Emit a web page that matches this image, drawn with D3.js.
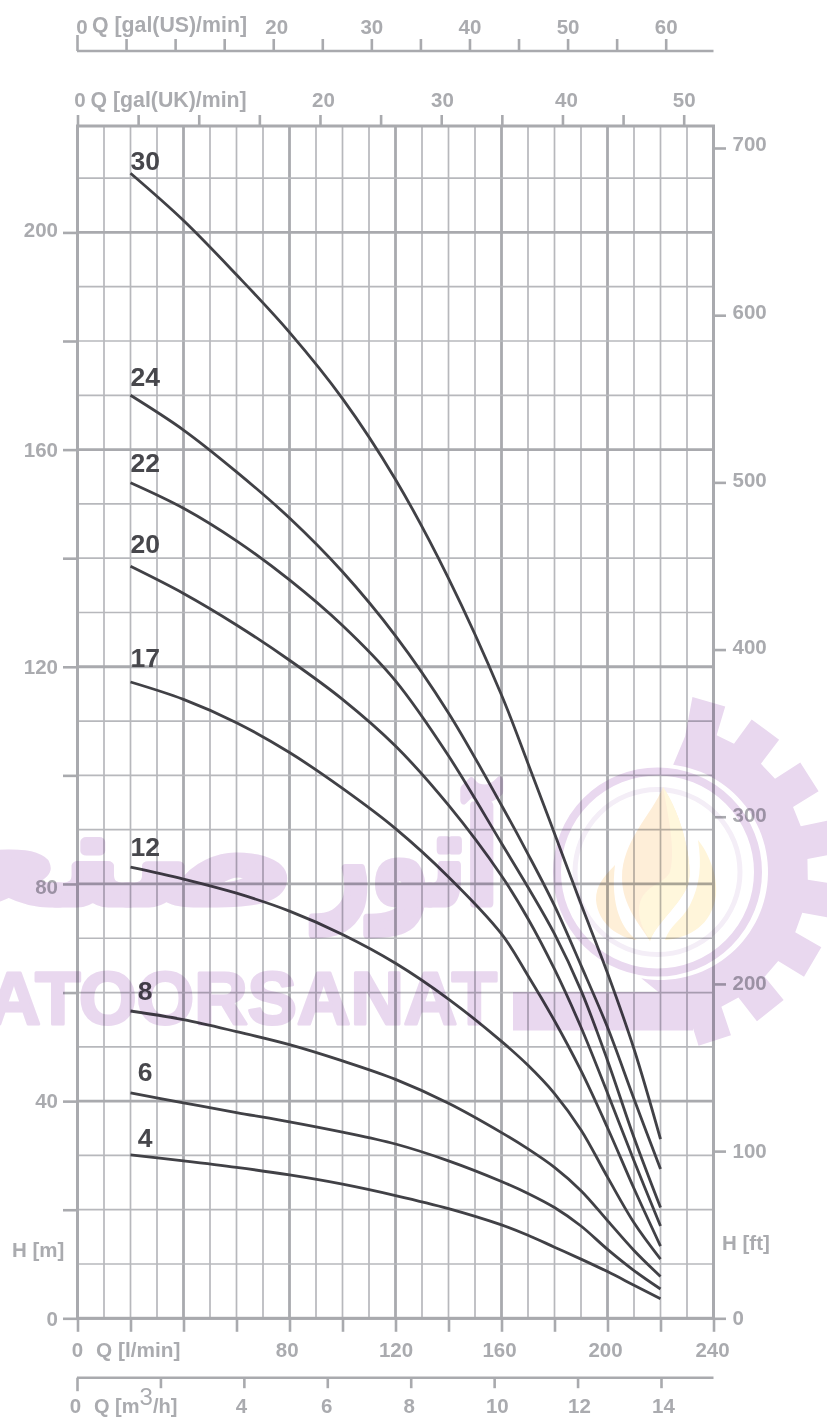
<!DOCTYPE html>
<html>
<head>
<meta charset="utf-8">
<script src="https://cdnjs.cloudflare.com/ajax/libs/d3/7.8.5/d3.min.js"></script>
<style>
  html, body { margin: 0; padding: 0; background: #fff; }
  svg { display: block; }
  text { font-family: "Liberation Sans", Arial, sans-serif; font-weight: bold; }
  .axis text { font-size: 20.5px; fill: #aaabaf; }
  .axis line { stroke: #a9aaae; stroke-width: 2.6px; }
  .title { font-size: 21.3px; fill: #aaabaf; }
  .curveLabel { font-size: 26.5px; fill: #47474c; }
  .curve { fill: none; stroke: #414146; stroke-width: 2.8px; }
</style>
</head>
<body>
<div id="chart"></div>
<script>
// flow points the curves were read at, l/min. closer together where they bend
const flow = [20, 40, 60, 80, 100, 120, 140, 160, 170, 180, 190, 200, 210, 220];

// head in m, one array per pump stage count
const stage30 = [210.9, 202.2, 192.2, 181.6, 169.4, 154.5, 136.3, 114.8, 102.2, 89.3, 76.3, 63.6, 49.6, 33];
const stage24 = [170, 163.6, 155.9, 147.4, 137.5, 125.7, 111.5, 94.5, 85.5, 76, 65, 53.6, 40.4, 27.5];
const stage22 = [153.9, 149.2, 143.2, 136, 127.6, 117.4, 103.6, 87.5, 79.4, 70.8, 60.4, 47.5, 33.3, 20.4];
const stage20 = [138.5, 133.5, 127.7, 121.2, 114, 105.4, 94.5, 81.5, 73.6, 64.3, 53.6, 41.5, 29, 17];
const stage17 = [117.2, 114, 109.7, 104.2, 97.6, 90.2, 81.3, 70.8, 63.1, 54.8, 45.6, 35.1, 23.9, 13.3];
const stage12 = [83.1, 80.9, 78.3, 75, 70.7, 65.4, 58.8, 51, 46.6, 41.4, 34.7, 26, 17.6, 10.9];
const stage8 = [56.6, 55, 52.8, 50.4, 47.4, 44, 39.6, 34.2, 31.2, 27.8, 23.5, 18, 12.5, 7.7];
const stage6 = [41.5, 39.7, 37.9, 36.2, 34.3, 32.1, 29, 25.2, 23, 20.4, 17, 12.7, 8.8, 5.4];
const stage4 = [30.1, 29, 27.8, 26.4, 24.7, 22.6, 20.2, 17.2, 15.3, 13.1, 10.9, 8.6, 6.1, 3.6];

const stageNames = ["30", "24", "22", "20", "17", "12", "8", "6", "4"];
const stageSeries = [stage30, stage24, stage22, stage20, stage17, stage12, stage8, stage6, stage4];

// axis ticks and which of them carry a label
const lpmTicks = [0, 20, 40, 60, 80, 100, 120, 140, 160, 180, 200, 220, 240];
const lpmLabels = [0, 80, 120, 160, 200, 240];
const headTicks = [0, 20, 40, 60, 80, 100, 120, 140, 160, 180, 200];
const headLabels = [0, 40, 80, 120, 160, 200];
const feetTicks = [0, 100, 200, 300, 400, 500, 600, 700];
const usTicks = [0, 5, 10, 15, 20, 25, 30, 35, 40, 45, 50, 55, 60];
const usLabels = [0, 20, 30, 40, 50, 60];
const ukTicks = [0, 5, 10, 15, 20, 25, 30, 35, 40, 45, 50];
const ukLabels = [0, 20, 30, 40, 50];
const m3hTicks = [0, 2, 4, 6, 8, 10, 12, 14];
const m3hLabels = [0, 4, 6, 8, 10, 12, 14];

const W = 827, H = 1417;
const plotLeft = 77.5, plotRight = 713.5, plotTop = 126, plotBottom = 1318.3;

var svg = d3.select("#chart").append("svg")
  .attr("width", W)
  .attr("height", H);

svg.append("rect").attr("width", W).attr("height", H).attr("fill", "#fff");

var x = d3.scaleLinear().domain([0, 240]).range([plotLeft, plotRight]);
var y = d3.scaleLinear().domain([0, 219.6]).range([plotBottom, plotTop]);
var yFeet = d3.scaleLinear().domain([0, 700]).range([plotBottom, 148]);
var xUs = d3.scaleLinear().domain([0, 60]).range([77, 665.7]);
var xUk = d3.scaleLinear().domain([0, 50]).range([plotLeft, 683.7]);
var xM3h = d3.scaleLinear().domain([0, 14]).range([77, 661]);

function onlyLabels(list) {
  return function(d) { return list.indexOf(d) >= 0 ? d : ""; };
}

// grid, thin every 10 and heavy every 40
var grid = svg.append("g").attr("class", "grid");
grid.selectAll(".gridX").data(x.ticks(24))
  .enter().append("line")
  .attr("class", "gridX")
  .attr("x1", function(d) {return x(d);})
  .attr("x2", function(d) {return x(d);})
  .attr("y1", plotTop)
  .attr("y2", plotBottom)
  .attr("stroke", function(d) {return d % 40 == 0 ? "#a9aaae" : "#b7b8bc";})
  .attr("stroke-width", function(d) {return d % 40 == 0 ? 2.8 : 1.7;});
grid.selectAll(".gridY").data(y.ticks(22))
  .enter().append("line")
  .attr("class", "gridY")
  .attr("x1", plotLeft)
  .attr("x2", plotRight)
  .attr("y1", function(d) {return y(d);})
  .attr("y2", function(d) {return y(d);})
  .attr("stroke", function(d) {return d % 40 == 0 ? "#a9aaae" : "#b7b8bc";})
  .attr("stroke-width", function(d) {return d % 40 == 0 ? 2.8 : 1.7;});

svg.append("rect")
  .attr("x", plotLeft).attr("y", plotTop)
  .attr("width", plotRight - plotLeft).attr("height", plotBottom - plotTop)
  .attr("fill", "none")
  .attr("stroke", "#a9aaae")
  .attr("stroke-width", 3);

// axes
function addAxis(axis, tx, ty) {
  var g = svg.append("g")
    .attr("class", "axis")
    .attr("transform", "translate(" + tx + "," + ty + ")")
    .call(axis);
  g.select(".domain").remove();
  return g;
}

function nudge(g, attr, offsets) {
  g.selectAll(".tick text")
    .attr(attr, function(d) {
      return (+d3.select(this).attr(attr) || 0) + (offsets[d] || 0);
    });
}

var leftAxis = addAxis(d3.axisLeft(y).tickValues(headTicks).tickSize(14.5).tickPadding(5)
  .tickFormat(onlyLabels(headLabels)), plotLeft, 0);
leftAxis.selectAll(".tick text").attr("transform", function(d) {
  var off = {0: 0.7, 80: 3.2, 200: -2.7};
  return "translate(0," + (off[d] || 0) + ")";
});

var rightAxis = addAxis(d3.axisRight(yFeet).tickValues(feetTicks).tickSize(12.5).tickPadding(6.5), plotRight, 0);
rightAxis.selectAll(".tick text").attr("transform", function(d) {
  return "translate(0," + (-d / 175) + ")";
});

var lpmAxis = addAxis(d3.axisBottom(x).tickValues(lpmTicks).tickSize(13.5).tickPadding(10.3)
  .tickFormat(onlyLabels(lpmLabels)), 0, plotBottom);
nudge(lpmAxis, "x", {0: -0.5, 80: -2.8, 160: -2.5, 200: -2.5, 240: -1.5});

var usAxis = addAxis(d3.axisTop(xUs).tickValues(usTicks).tickSize(12).tickPadding(4.7)
  .tickFormat(onlyLabels(usLabels)), 0, 51);
nudge(usAxis, "x", {0: 4.5, 20: 3});
usAxis.selectAll(".tick").filter(function(d) {return d == 0;}).select("line").attr("y2", -16);

var ukAxis = addAxis(d3.axisTop(xUk).tickValues(ukTicks).tickSize(11).tickPadding(7.7)
  .tickFormat(onlyLabels(ukLabels)), 0, plotTop);
nudge(ukAxis, "x", {0: 2, 20: 3, 30: 0.7, 40: 3.5});

var m3hAxis = addAxis(d3.axisBottom(xM3h).tickValues(m3hTicks).tickSize(10.5).tickPadding(9.9)
  .tickFormat(onlyLabels(m3hLabels)), 0, 1377.7);
nudge(m3hAxis, "x", {0: -2, 4: -3, 6: -1, 8: -2, 10: 2.7, 12: 1.3, 14: 2});
m3hAxis.selectAll(".tick").filter(function(d) {return d == 0;}).select("line").attr("y2", 13.5);

// the two free standing axis lines
[[51, 77, plotRight], [1377.7, 77, plotRight]].forEach(function(l) {
  svg.append("line")
    .attr("x1", l[1]).attr("x2", l[2])
    .attr("y1", l[0]).attr("y2", l[0])
    .attr("stroke", "#a9aaae")
    .attr("stroke-width", 2.6);
});

// axis titles
svg.append("text").attr("class", "title").attr("x", 92).attr("y", 32).text("Q [gal(US)/min]");
svg.append("text").attr("class", "title").attr("x", 90.5).attr("y", 106.5).text("Q [gal(UK)/min]");
svg.append("text").attr("class", "title").attr("x", 96).attr("y", 1356.7).style("font-size", "20.8px").text("Q [l/min]");
svg.append("text").attr("class", "title").attr("x", 12).attr("y", 1256.7).style("font-size", "20.5px").text("H [m]");
svg.append("text").attr("class", "title").attr("x", 722).attr("y", 1250).style("font-size", "20.5px").text("H [ft]");
var m3Title = svg.append("text").attr("class", "title").attr("x", 94).attr("y", 1412.7).style("font-size", "20px");
m3Title.append("tspan").text("Q [m");
m3Title.append("tspan").attr("dy", -8).style("font-size", "24px").style("font-weight", "normal").text("3");
m3Title.append("tspan").attr("dy", 8).text("/h]");

// pump curves
var line = d3.line()
  .x(function(d) {return x(d.q);})
  .y(function(d) {return y(d.h);})
  .curve(d3.curveCatmullRom.alpha(0.5));

var curves = stageSeries.map(function(values, i) {
  return {
    name: stageNames[i],
    points: values.map(function(h, j) {return {q: flow[j], h: h};})
  };
});

svg.selectAll(".curve").data(curves)
  .enter().append("path")
  .attr("class", "curve")
  .attr("d", function(d) {return line(d.points);});

var labelGap = {"30": 3, "24": 9, "22": 11, "20": 13, "17": 15, "12": 11, "8": 10.5, "6": 12, "4": 8};
svg.selectAll(".curveLabel").data(curves)
  .enter().append("text")
  .attr("class", "curveLabel")
  .attr("text-anchor", "end")
  .attr("x", function(d) {return x(20) + (d.name.length > 1 ? 29.5 : 22);})
  .attr("y", function(d) {return y(d.points[0].h) - labelGap[d.name];})
  .text(function(d) {return d.name;});

// watermark, laid over the chart
var purple = "#e9d8ef";
var mark = svg.append("g").style("mix-blend-mode", "multiply");

var cx = 660, cy = 872, rOut = 178, rRoot = 148, rIn = 108;
var teeth = [-74, -53.5, -32.5, -11.5, 9.5, 30.5, 51.5, 72];
var gearPts = [];
function polar(r, deg) {
  var a = deg * Math.PI / 180;
  return [cx + r * Math.cos(a), cy + r * Math.sin(a)];
}
teeth.forEach(function(t, i) {
  if (i > 0) gearPts.push(polar(rRoot, t - 6.5));
  else gearPts.push(polar(rRoot - 10, t - 5.5));
  gearPts.push(polar(rOut, t - 5.5));
  gearPts.push(polar(rOut, t + 5.5));
  gearPts.push(polar(rRoot, t + 6.5));
});
for (var a = 100; a >= -83; a -= 3) gearPts.push(polar(rIn, a));
mark.append("path")
  .attr("d", d3.line()(gearPts) + "Z")
  .attr("fill", purple);
mark.append("rect").attr("x", 513).attr("y", 992).attr("width", 180).attr("height", 38.5).attr("fill", purple);

mark.append("circle").attr("cx", 657.5).attr("cy", 872).attr("r", 100.5)
  .attr("fill", "none").attr("stroke", purple).attr("stroke-width", 8);
mark.append("circle").attr("cx", 657.5).attr("cy", 872).attr("r", 82.5)
  .attr("fill", "none").attr("stroke", "#f4eef7").attr("stroke-width", 5);

mark.append("path")
  .attr("d", "M663,787C652,815 622,840 622,878C622,905 640,925 650,941C655,925 680,905 688,885C694,865 682,815 663,787Z")
  .attr("fill", "#feeed8");
mark.append("path")
  .attr("d", "M663,787C668,815 676,850 670,872C664,885 640,885 639,910C639,925 646,932 650,941C655,925 680,905 688,885C694,865 682,815 663,787Z")
  .attr("fill", "#fff7dc");
mark.append("path")
  .attr("d", "M615,865C603,878 596,885 596,900C598,925 620,938 637,940C622,930 610,905 615,865Z")
  .attr("fill", "#feefd8");
mark.append("path")
  .attr("d", "M698,840C702,865 700,885 690,905C682,920 670,925 665,940C690,938 712,925 716,895C718,875 708,852 698,840Z")
  .attr("fill", "#fff5da");

mark.append("text")
  .attr("x", 497).attr("y", 1024)
  .attr("text-anchor", "end")
  .attr("fill", purple).attr("stroke", purple)
  .attr("stroke-width", 3).attr("stroke-linejoin", "round")
  .style("font-size", "74px")
  .text("ATOORSANAT");

// the two persian words are set apart, each stretched to the width it has in the logo
[["آتور", 498, 0.74], ["صنعت", 295, 1.35]].forEach(function(w) {
  mark.append("text")
    .attr("transform", "translate(" + w[1] + ",903) scale(" + w[2] + ",1)")
    .attr("direction", "rtl")
    .attr("text-anchor", "start")
    .attr("fill", purple)
    .attr("stroke", purple)
    .attr("stroke-width", 9).attr("stroke-linejoin", "round")
    .style("font-family", "'DejaVu Sans'")
    .style("font-size", "128px")
    .text(w[0]);
});
</script>
</body>
</html>
